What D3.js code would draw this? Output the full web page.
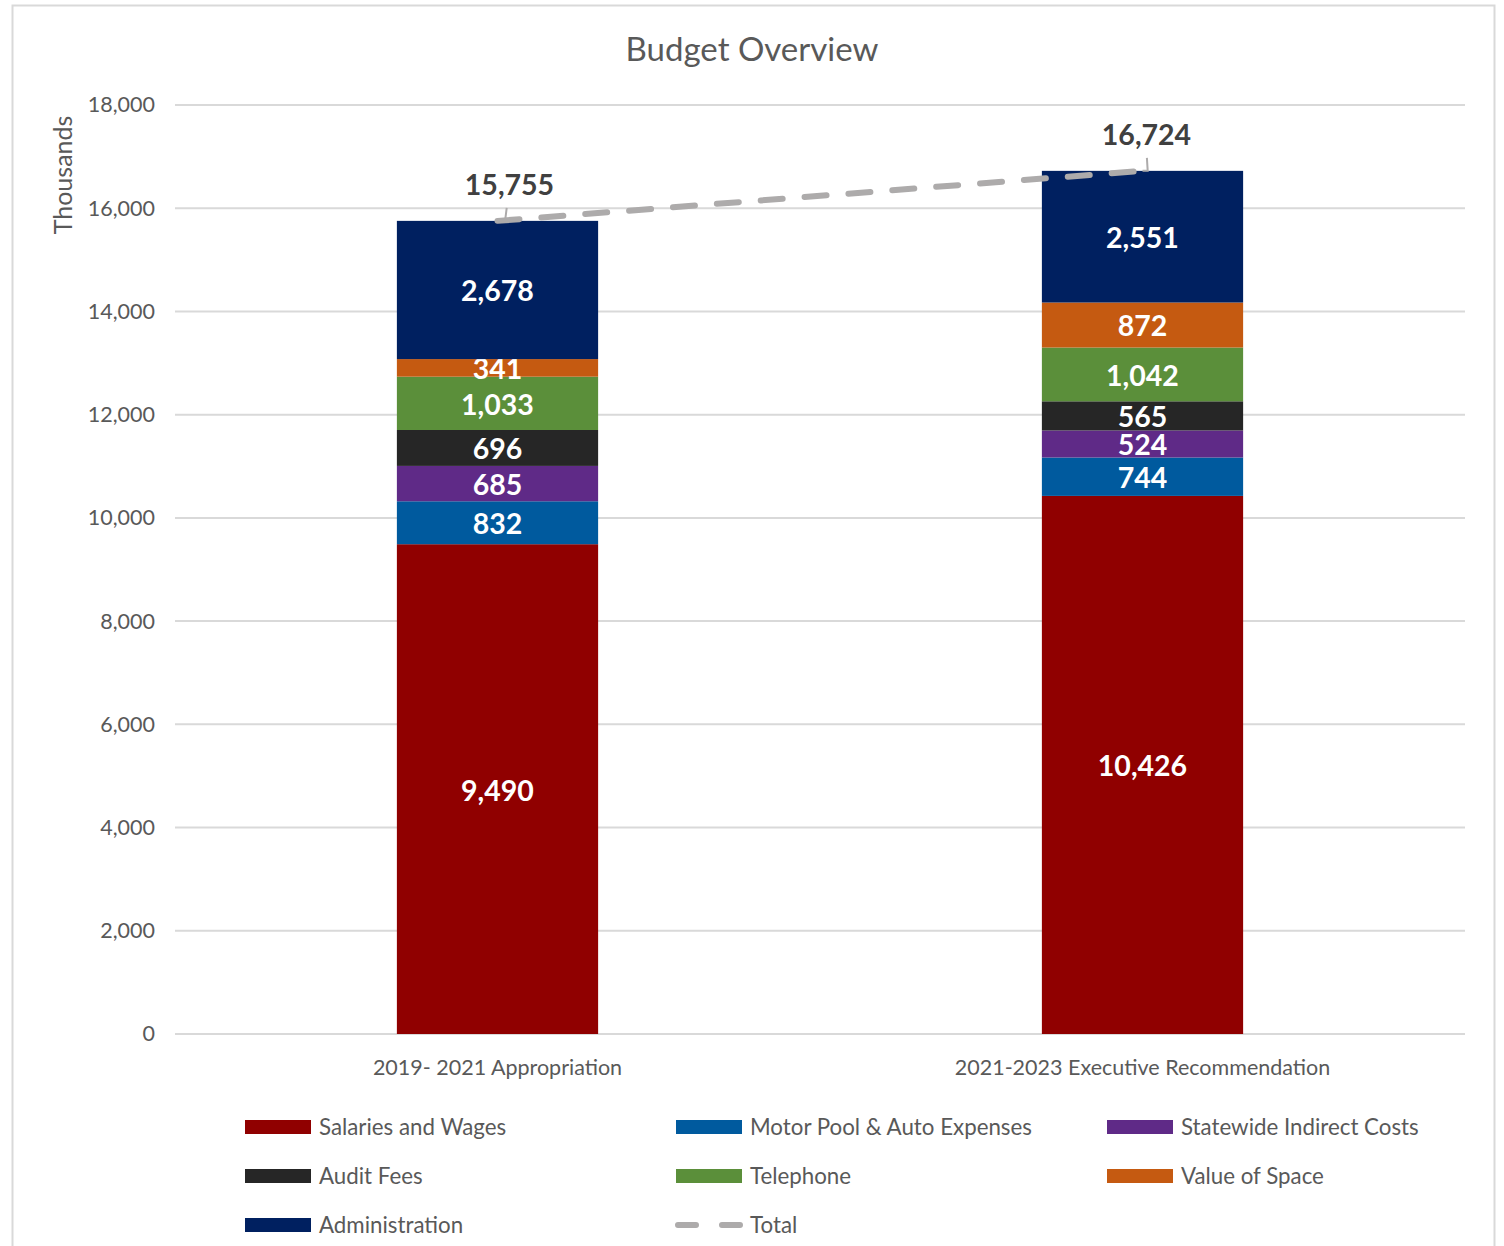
<!DOCTYPE html>
<html>
<head>
<meta charset="utf-8">
<script src="https://cdn.jsdelivr.net/npm/d3@7"></script>
<style>
  html, body { margin: 0; padding: 0; background: #fff; }
  svg { display: block; font-family: Lato, "Open Sans", sans-serif; }
</style>
</head>
<body>
<svg id="chart" width="1504" height="1246"></svg>
<script>
// Budget categories (x axis)
const categories = ["2019- 2021 Appropriation", "2021-2023 Executive Recommendation"];

// Stacked series, bottom to top
const seriesNames = [
  "Salaries and Wages",
  "Motor Pool & Auto Expenses",
  "Statewide Indirect Costs",
  "Audit Fees",
  "Telephone",
  "Value of Space",
  "Administration"
];
const salaries   = [9490, 10426];
const motorPool  = [832, 744];
const statewide  = [685, 524];
const auditFees  = [696, 565];
const telephone  = [1033, 1042];
const valueSpace = [341, 872];
const admin      = [2678, 2551];
const totals     = [15755, 16724];

const yTicks = [0, 2000, 4000, 6000, 8000, 10000, 12000, 14000, 16000, 18000];

const colors = ["#900000", "#005A9E", "#5F2A87", "#262626", "#5B8F3A", "#C55A11", "#002060"];
const totalColor = "#ADABAB";

const seriesValues = [salaries, motorPool, statewide, auditFees, telephone, valueSpace, admin];

// Table rows for d3.stack
const rows = categories.map((c, i) => {
  const r = { category: c };
  seriesNames.forEach((s, k) => r[s] = seriesValues[k][i]);
  return r;
});

const svg = d3.select("#chart");

// chart frame
svg.append("rect")
  .attr("x", 12.5).attr("y", 5.5).attr("width", 1482).attr("height", 1250)
  .attr("fill", "#fff").attr("stroke", "#D9D9D9").attr("stroke-width", 2);

const plot = { left: 175, right: 1465, top: 105, bottom: 1034 };

const x = d3.scaleBand().domain(categories).range([plot.left, plot.right]).paddingInner(0.688).paddingOuter(0.344);
const y = d3.scaleLinear().domain([0, 18000]).range([plot.bottom, plot.top]);

// title
svg.append("text")
  .attr("x", 752).attr("y", 61).attr("text-anchor", "middle")
  .attr("font-size", 33).attr("fill", "#595959")
  .text("Budget Overview");

// gridlines
svg.append("g").selectAll("line").data(yTicks).join("line")
  .attr("x1", plot.left).attr("x2", plot.right)
  .attr("y1", d => y(d)).attr("y2", d => y(d))
  .attr("stroke", "#D9D9D9").attr("stroke-width", 2);

// y axis tick labels
const yAxis = d3.axisLeft(y).tickValues(yTicks).tickFormat(d3.format(",")).tickSize(0).tickPadding(0);
const gy = svg.append("g").attr("transform", `translate(${plot.left - 20},0)`).call(yAxis);
gy.select(".domain").remove();
gy.selectAll("text").attr("font-size", 21.5).attr("fill", "#595959")
  .attr("font-family", "Lato, 'Open Sans', sans-serif");

// y axis title
svg.append("text")
  .attr("transform", "translate(72,175) rotate(-90)")
  .attr("text-anchor", "middle").attr("font-size", 25).attr("fill", "#595959")
  .text("Thousands");

// x axis labels
const xAxis = d3.axisBottom(x).tickSize(0).tickPadding(0);
const gx = svg.append("g").attr("transform", `translate(0,${plot.bottom + 41})`).call(xAxis);
gx.select(".domain").remove();
gx.selectAll("text").attr("font-size", 21.5).attr("fill", "#595959").attr("dy", 0)
  .attr("font-family", "Lato, 'Open Sans', sans-serif");

// stacked bars
const stack = d3.stack().keys(seriesNames)(rows);
const layers = svg.append("g").selectAll("g").data(stack).join("g")
  .attr("fill", (d, i) => colors[i]);
layers.selectAll("rect").data(d => d).join("rect")
  .attr("x", d => x(d.data.category))
  .attr("width", x.bandwidth())
  .attr("y", d => y(d[1]))
  .attr("height", d => y(d[0]) - y(d[1]));

// segment value labels
const fmt = d3.format(",");
layers.selectAll("text").data((d, i) => d.map(p => ({ p, key: d.key }))).join("text")
  .attr("x", d => x(d.p.data.category) + x.bandwidth() / 2)
  .attr("y", d => (y(d.p[0]) + y(d.p[1])) / 2)
  .attr("dy", "0.4em")
  .attr("text-anchor", "middle")
  .attr("font-size", 28.5).attr("font-weight", "bold").attr("fill", "#fff")
  .text(d => fmt(d.p.data[d.key]));

// total line
const cx = c => x(c) + x.bandwidth() / 2;
const line = d3.line().x((d, i) => cx(categories[i])).y(d => y(d));
svg.append("path").datum(totals)
  .attr("d", line)
  .attr("fill", "none").attr("stroke", totalColor)
  .attr("stroke-width", 6).attr("stroke-linecap", "round")
  .attr("stroke-dasharray", "22 22");

// total labels with leader lines
const totalLabelOffset = [{ dx: 12, dy: -36 }, { dx: 4, dy: -36 }];
totals.forEach((t, i) => {
  const px = cx(categories[i]), py = y(t);
  const o = totalLabelOffset[i];
  svg.append("path")
    .attr("d", `M${px},${py} L${px + o.dx * 0.3 + 4},${py} L${px + o.dx * 0.6 + 2},${py - 13}`)
    .attr("fill", "none").attr("stroke", totalColor).attr("stroke-width", 2);
  svg.append("text")
    .attr("x", px + o.dx).attr("y", py + o.dy + 10)
    .attr("text-anchor", "middle")
    .attr("font-size", 28.5).attr("font-weight", "bold").attr("fill", "#404040")
    .text(fmt(t));
});

// legend
const legendItems = seriesNames.map((s, i) => ({ name: s, color: colors[i], type: "bar" }))
  .concat([{ name: "Total", color: totalColor, type: "line" }]);
const colX = [245, 676, 1107];
const rowY = [1127, 1176, 1225];
const lg = svg.append("g").selectAll("g").data(legendItems).join("g")
  .attr("transform", (d, i) => `translate(${colX[i % 3]},${rowY[Math.floor(i / 3)]})`);
lg.filter(d => d.type === "bar").append("rect")
  .attr("x", 0).attr("y", -7).attr("width", 66).attr("height", 14)
  .attr("fill", d => d.color);
lg.filter(d => d.type === "line").append("line")
  .attr("x1", 2).attr("x2", 64).attr("y1", 0).attr("y2", 0)
  .attr("stroke", d => d.color).attr("stroke-width", 6).attr("stroke-linecap", "round")
  .attr("stroke-dasharray", "18 26");
lg.append("text")
  .attr("x", 74).attr("y", 0).attr("dy", "0.35em")
  .attr("font-size", 22.3).attr("fill", "#595959")
  .text(d => d.name);
</script>
</body>
</html>
